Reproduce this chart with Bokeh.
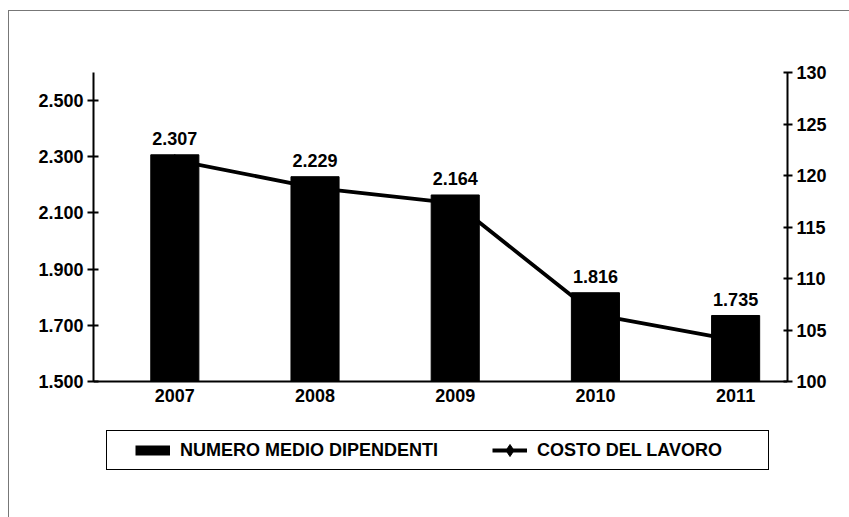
from bokeh.plotting import figure
from bokeh.models import Range1d, LinearAxis, FixedTicker, Legend, LegendItem, Span
from bokeh.embed import file_html
from bokeh.resources import INLINE
from bokeh.core.properties import value

years = ["2007", "2008", "2009", "2010", "2011"]
dipendenti = [2307, 2229, 2164, 1816, 1735]
costo = [121.5, 118.8, 117.3, 106.5, 104.0]
left_ticks = [1500, 1700, 1900, 2100, 2300, 2500]
right_ticks = [100, 105, 110, 115, 120, 125, 130]

FONT = "Liberation Sans"
FS = "18px"
NAN = float("nan")


def it_fmt(v):
    return f"{v:,}".replace(",", ".")


x = list(range(len(years)))
labels = [it_fmt(v) for v in dipendenti]

# plot area: value part is 309 px tall; frame extends 100 px lower to hold the legend
L0, L1 = 1500, 2600
R0, R1 = 100, 130
ext = 100 / 309
p = figure(width=841, height=507, output_backend="svg", toolbar_location=None,
           x_range=Range1d(-0.58, 4.37),
           y_range=Range1d(L0 - (L1 - L0) * ext, L1),
           min_border_left=84, min_border_right=63, min_border_top=61,
           min_border_bottom=37, x_axis_location=None, y_axis_location=None,
           outline_line_color=None, background_fill_color="white",
           border_fill_color="white")
p.margin = (10, 0, 0, 8)
p.styles = {"border-left": "1px solid #777", "border-top": "1px solid #777"}
p.grid.visible = False
p.extra_y_ranges = {"costo": Range1d(R0 - (R1 - R0) * ext, R1)}

line = p.line(x, costo, y_range_name="costo", line_color="black", line_width=3.8)
dots = p.scatter(x, costo, y_range_name="costo", marker="diamond", size=11,
                 color="black")
bars = p.vbar(x=x, top=dipendenti, bottom=L0, width=0.343,
              fill_color="black", line_color="black")
# legend swatch for the bars (draws nothing in the plot, only in the legend)
bar_swatch = p.line(x=[0, 1], y=[NAN, NAN], line_color="black", line_width=10)

p.text(x=x, y=dipendenti, text=labels, text_font=value(FONT),
       text_font_style="bold", text_font_size=FS, text_align="center",
       text_baseline="alphabetic", y_offset=-16, text_color="black")

# category axis drawn at the base of the bars
p.add_layout(Span(location=L0, dimension="width", line_color="black", line_width=2))
p.text(x=x, y=[L0] * len(x), text=years, text_font=value(FONT),
       text_font_style="bold", text_font_size=FS, text_align="center",
       text_baseline="top", y_offset=7, text_color="black")


def style_axis(ax):
    ax.axis_line_width = 2
    ax.axis_line_color = "black"
    ax.major_tick_line_width = 2
    ax.major_tick_line_color = "black"
    ax.minor_tick_line_color = None
    ax.major_label_text_font = FONT
    ax.major_label_text_font_style = "bold"
    ax.major_label_text_font_size = FS
    ax.major_label_text_color = "black"


laxis = LinearAxis(ticker=FixedTicker(ticks=left_ticks), bounds=(L0, L1),
                   major_label_overrides={t: it_fmt(t) for t in left_ticks})
style_axis(laxis)
laxis.major_tick_in = 5
laxis.major_tick_out = 6
laxis.major_label_standoff = 4
p.add_layout(laxis, "left")

raxis = LinearAxis(y_range_name="costo", ticker=FixedTicker(ticks=right_ticks),
                   bounds=(R0, R1),
                   major_label_overrides={t: str(t) for t in right_ticks})
style_axis(raxis)
raxis.major_tick_in = 4
raxis.major_tick_out = 5
raxis.major_label_standoff = 4
p.add_layout(raxis, "right")

legend = Legend(items=[LegendItem(label="NUMERO MEDIO DIPENDENTI", renderers=[bar_swatch]),
                       LegendItem(label="COSTO DEL LAVORO", renderers=[line, dots])],
                orientation="horizontal", location=(13, 11),
                title=" ", title_location="left", title_standoff=13,
                title_text_font_size="10px",
                border_line_color="black", border_line_width=1.5, border_line_alpha=1,
                padding=4, spacing=54, glyph_width=35, glyph_height=30,
                label_standoff=10, label_width=227, label_height=20,
                label_text_font=FONT, label_text_color="black",
                label_text_font_style="bold", label_text_font_size="18px",
                background_fill_color="white", background_fill_alpha=1, margin=0)
p.add_layout(legend, "center")

open("out.html", "w").write(file_html(p, INLINE))
